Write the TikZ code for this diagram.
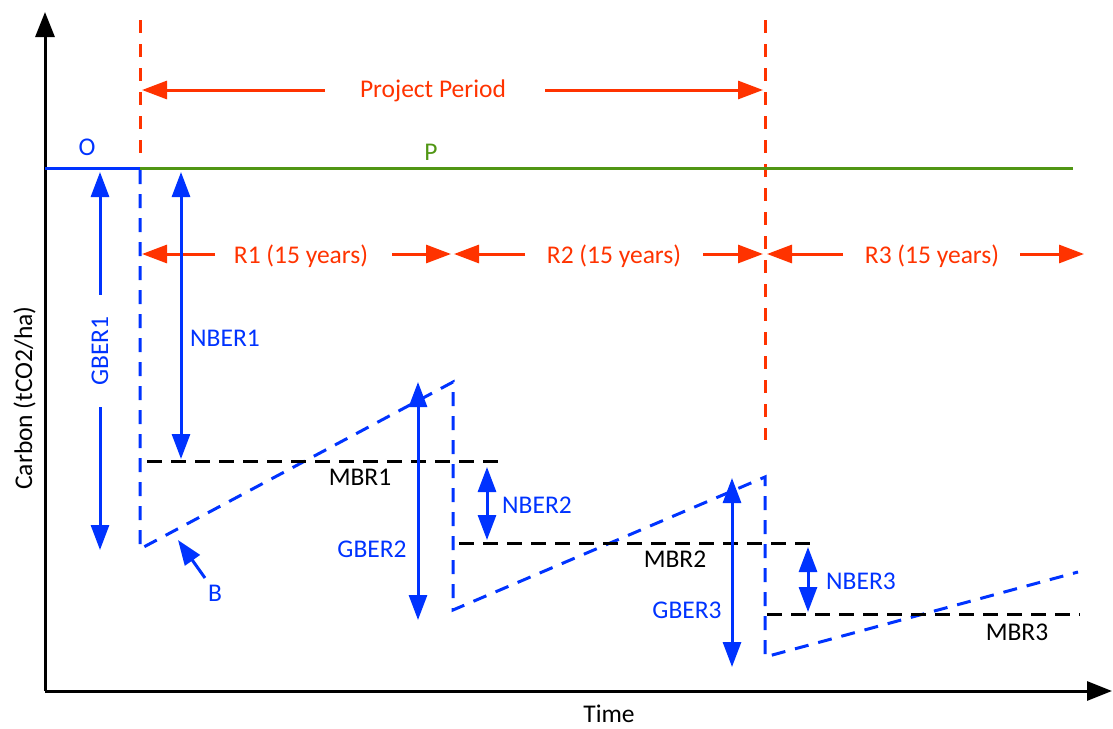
\documentclass[tikz,border=0pt]{standalone}
\usepackage{fontspec}
\setmainfont{Carlito}
\usetikzlibrary{arrows.meta}
\definecolor{cblue}{RGB}{0,51,255}
\definecolor{cred}{RGB}{255,51,0}
\definecolor{cgreen}{RGB}{80,150,20}
\begin{document}
\begin{tikzpicture}[x=1pt,y=-1pt,
  lbl/.style={font=\fontsize{25.5}{30}\selectfont, inner sep=0pt, anchor=base},
  tri/.style={-{Triangle[length=25pt,width=18pt]}},
  dtri/.style={{Triangle[length=25pt,width=18pt]}-{Triangle[length=25pt,width=18pt]}},
  axisline/.style={line width=3pt, black, -{Triangle[length=25pt,width=19pt]}},
  redarrow/.style={tri, line width=3pt, cred},
  bluearrow/.style={dtri, line width=3pt, cblue},
  reddash/.style={line width=3pt, cred, dash pattern=on 13pt off 11pt},
  bluedash/.style={line width=3pt, cblue, dash pattern=on 14pt off 10pt},
  blackdash/.style={line width=3pt, black, dash pattern=on 15pt off 9pt}]
\useasboundingbox (0,0) rectangle (1113,728);

% axes
\coordinate (orig) at (45,691);
\coordinate (ytop) at (45,12);
\coordinate (xend) at (1112,691);
\draw[axisline] (orig) -- (ytop);
\draw[axisline] (orig) -- (xend);
\node[lbl, rotate=90] (ylab) at (32,398) {Carbon (tCO2/ha)};
\node[lbl] (xlab) at (609,722) {Time};

% red vertical dashed lines
\coordinate (v1top) at (140,20);
\coordinate (v1bot) at (140,163);
\coordinate (v2top) at (765,20);
\coordinate (v2bot) at (765,440);
\draw[reddash] (v1top) -- (v1bot);
\draw[reddash] (v2top) -- (v2bot);

% project period
\node[lbl, text=cred] (pp) at (433,97) {Project Period};
\coordinate (ppa) at (325,90);
\coordinate (ppb) at (142,90);
\coordinate (ppc) at (545,90);
\coordinate (ppd) at (763,90);
\draw[redarrow] (ppa) -- (ppb);
\draw[redarrow] (ppc) -- (ppd);

% O and P lines
\coordinate (oa) at (45,168);
\coordinate (ob) at (140,168);
\coordinate (pb) at (1073,168);
\draw[line width=3pt, cblue] (oa) -- (ob);
\draw[line width=3pt, cgreen] (ob) -- (pb);
\node[lbl, text=cblue] (olab) at (87,155) {O};
\node[lbl, text=cgreen] (plab) at (431,160) {P};

% baseline sawtooth
\coordinate (s0) at (140,170);
\coordinate (s1) at (140,549);
\coordinate (s2) at (453,382);
\coordinate (s3) at (453,610);
\coordinate (s4) at (765,477);
\coordinate (s5) at (765,657);
\coordinate (s6) at (1078,572);
\draw[bluedash] (s0) -- (s1) -- (s2) -- (s3) -- (s4) -- (s5) -- (s6);

% MBR lines
\coordinate (m1a) at (147,461);
\coordinate (m1b) at (502,461);
\coordinate (m2a) at (459,543);
\coordinate (m2b) at (815,543);
\coordinate (m3a) at (767,614);
\coordinate (m3b) at (1080,614);
\draw[blackdash] (m1a) -- (m1b);
\draw[blackdash] (m2a) -- (m2b);
\draw[blackdash] (m3a) -- (m3b);
\node[lbl] (mbr1) at (360,485) {MBR1};
\node[lbl] (mbr2) at (675,567) {MBR2};
\node[lbl] (mbr3) at (1017,640) {MBR3};

% R arrows
\node[lbl, text=cred] (r1) at (301,263) {R1 (15 years)};
\node[lbl, text=cred] (r2) at (614,263) {R2 (15 years)};
\node[lbl, text=cred] (r3) at (932,263) {R3 (15 years)};
\coordinate (r1a) at (215,254);
\coordinate (r1b) at (142,254);
\coordinate (r1c) at (392,254);
\coordinate (r1d) at (451,254);
\coordinate (r2a) at (525,254);
\coordinate (r2b) at (454,254);
\coordinate (r2c) at (703,254);
\coordinate (r2d) at (763,254);
\coordinate (r3a) at (843,254);
\coordinate (r3b) at (767,254);
\coordinate (r3c) at (1020,254);
\coordinate (r3d) at (1084,254);
\draw[redarrow] (r1a) -- (r1b);
\draw[redarrow] (r1c) -- (r1d);
\draw[redarrow] (r2a) -- (r2b);
\draw[redarrow] (r2c) -- (r2d);
\draw[redarrow] (r3a) -- (r3b);
\draw[redarrow] (r3c) -- (r3d);

% GBER1
\coordinate (g1a) at (100,172);
\coordinate (g1b) at (100,550);
\draw[bluearrow] (g1a) -- (g1b);
\node[font=\fontsize{25.5}{30}\selectfont, text=cblue, rotate=90, fill=white,
      inner xsep=21pt, inner ysep=3pt] (gber1) at (100,351) {GBER1};

% NBER1
\coordinate (n1a) at (181,172);
\coordinate (n1b) at (181,459);
\draw[bluearrow] (n1a) -- (n1b);
\node[lbl, text=cblue] (nber1) at (225,346) {NBER1};

% GBER2, NBER2
\coordinate (g2a) at (418,382);
\coordinate (g2b) at (418,620);
\draw[bluearrow] (g2a) -- (g2b);
\node[lbl, text=cblue] (gber2) at (372,557) {GBER2};
\coordinate (n2a) at (487,467);
\coordinate (n2b) at (487,540);
\draw[bluearrow] (n2a) -- (n2b);
\node[lbl, text=cblue] (nber2) at (537,513) {NBER2};

% GBER3, NBER3
\coordinate (g3a) at (732,478);
\coordinate (g3b) at (732,667);
\draw[bluearrow] (g3a) -- (g3b);
\node[lbl, text=cblue] (gber3) at (687,618) {GBER3};
\coordinate (n3a) at (808,547);
\coordinate (n3b) at (808,612);
\draw[bluearrow] (n3a) -- (n3b);
\node[lbl, text=cblue] (nber3) at (861,589) {NBER3};

% B
\coordinate (ba) at (205,578);
\coordinate (bb) at (178,540);
\draw[tri, line width=3pt, cblue] (ba) -- (bb);
\node[lbl, text=cblue] (blab) at (215,601) {B};
\end{tikzpicture}
\end{document}
